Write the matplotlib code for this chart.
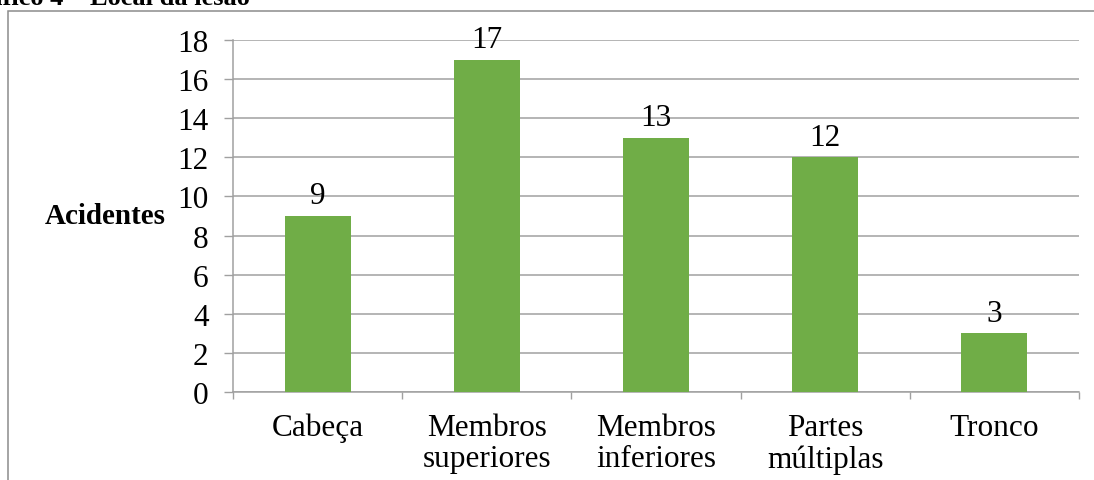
import matplotlib
matplotlib.use("Agg")
import matplotlib.pyplot as plt
from matplotlib.patches import Rectangle
from matplotlib.ticker import FixedLocator

categories = ["Cabeça", "Membros\nsuperiores", "Membros\ninferiores", "Partes\nmúltiplas", "Tronco"]
acidentes = [9, 17, 13, 12, 3]
y_ticks = [0, 2, 4, 6, 8, 10, 12, 14, 16, 18]

plt.rcParams["font.family"] = ["Liberation Serif", "DejaVu Serif"]

W, H = 1094, 481
fig = plt.figure(figsize=(W / 100, H / 100), dpi=100)
fig.patch.set_facecolor("white")

ax = fig.add_axes([233 / W, 1 - 393 / H, (1079 - 233) / W, (393 - 41) / H])

grid_col = "#A0A0A0"
fs = 22.5
x = list(range(len(categories)))
ax.bar(x, acidentes, width=0.39, color="#70AD47", zorder=3)

for xi, v in zip(x, acidentes):
    ax.annotate(str(v), (xi, v), xytext=(0, 9), textcoords="offset points",
                ha="center", va="baseline", fontsize=fs, color="black", zorder=4)

ax.set_xlim(-0.5, len(categories) - 0.5)
ax.set_ylim(0, 18)
ax.set_yticks(y_ticks)
ax.set_yticklabels([str(t) for t in y_ticks])
ax.set_xticks(x)
ax.set_xticklabels(categories, linespacing=1.12)
ax.xaxis.set_minor_locator(FixedLocator([i - 0.5 for i in range(len(categories) + 1)]))

ax.tick_params(axis="x", which="major", length=0, pad=15, labelsize=fs)
ax.tick_params(axis="x", which="minor", length=5, width=1, color=grid_col, direction="out")
ax.tick_params(axis="y", which="major", length=6.5, width=1, color=grid_col, pad=11, labelsize=fs)

ax.yaxis.grid(True, color=grid_col, linewidth=1.1, zorder=0)
ax.set_axisbelow(True)
for side in ["top", "right"]:
    ax.spines[side].set_visible(False)
for side in ["left", "bottom"]:
    ax.spines[side].set_color(grid_col)
    ax.spines[side].set_linewidth(1.1)

fig.text(105 / W, 1 - 216 / H, "Acidentes", ha="center", va="center",
         fontsize=21, fontweight="bold")

fig.text(250 / W, 1 - 5 / H, "Gráfico 4 – Local da lesão", ha="right", va="baseline",
         fontsize=19, fontweight="bold")

frame = Rectangle((8 / W, -0.2), 1.2, 1.2 - 12 / H, transform=fig.transFigure,
                  fill=False, edgecolor="#8C8C8C", linewidth=1.1, clip_on=False)
fig.add_artist(frame)

fig.savefig("out.png", dpi=100, facecolor="white")
